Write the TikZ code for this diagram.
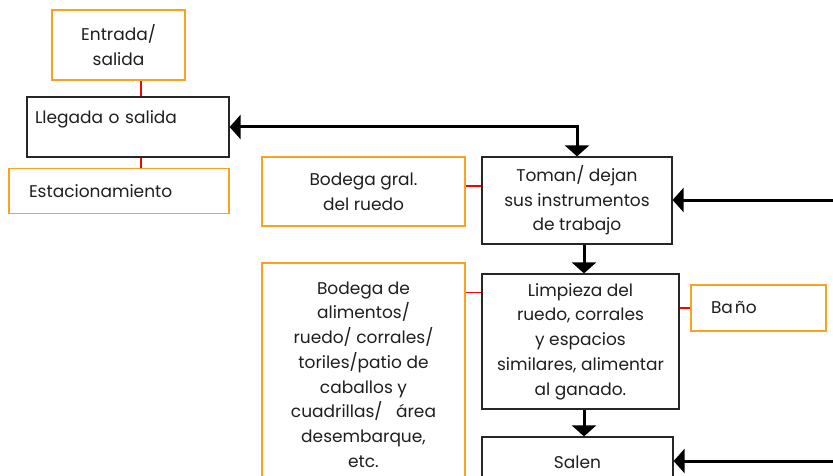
\documentclass[tikz,border=0pt]{standalone}
\usepackage{fontspec}
\setmainfont{Poppins}
\usetikzlibrary{arrows.meta,positioning}

\definecolor{naranja}{RGB}{247,162,32}
\definecolor{tinta}{RGB}{30,30,30}

\begin{document}
\begin{tikzpicture}[x=1pt,y=-1pt,
    font=\fontsize{17}{24.7}\selectfont,
    caja/.style={draw=black!85, line width=1.2pt, text=tinta, align=center},
    anexo/.style={draw=naranja, line width=1.2pt, text=tinta, align=center},
    enlace/.style={draw=red, line width=1.4pt},
    flecha/.style={line width=3pt, -{Triangle[width=24pt,length=11pt]}}]

    % marco
    \clip (0,0) rectangle (833,476);

    % columna izquierda
    \node[anexo, minimum width=133pt, minimum height=70pt] (entrada) at (118.5,45) {Entrada/\\salida};
    \node[caja, minimum width=202pt, minimum height=60pt, inner xsep=8pt,
          text width=186pt, align=left, text height=12pt, text depth=18pt] (llegada) at (128,127) {Llegada o salida};
    \node[anexo, minimum width=220pt, minimum height=45pt, inner xsep=20pt,
          text width=180pt, align=left] (estac) at (119,191) {Estacionamiento};

    % bodegas
    \node[anexo, minimum width=203pt, minimum height=69pt] (bodgral) at (363.5,191.5) {Bodega gral.\\del ruedo};
    \node[anexo, minimum width=203pt, minimum height=223pt] (alimentos) at (363.5,374.5)
        {Bodega de\\alimentos/\\ruedo/ corrales/\\toriles/patio de\\caballos y\\cuadrillas/\ \ \ área\\desembarque,\\etc.};

    % proceso
    \node[caja, minimum width=190pt, minimum height=87pt] (toman) at (577,200.5)
        {Toman/ dejan\\sus instrumentos\\de trabajo};
    \node[caja, minimum width=197pt, minimum height=135pt] (limpieza) at (580.5,341.5)
        {Limpieza del\\ruedo, corrales\\y espacios\\similares, alimentar\\al ganado.};
    \node[caja, minimum width=191pt, minimum height=50pt] (salen) at (577.5,462) {Salen};
    \node[anexo, minimum width=135pt, minimum height=46pt, inner xsep=20pt,
          text width=95pt, align=left] (bano) at (758.5,308) {Ba\kern2ptño};

    % entradas por la derecha
    \coordinate (der1) at (845,200);
    \coordinate (der2) at (845,461);

    % flechas
    \draw[line width=3pt, {Triangle[width=24pt,length=11pt]}-{Triangle[width=24pt,length=11pt]}]
        (llegada.east) -| (toman.north);
    \draw[flecha] (der1) -- (der1 -| toman.east);
    \draw[flecha] ([xshift=7pt]toman.south) -- ([xshift=7pt]toman.south |- limpieza.north);
    \draw[flecha] ([xshift=3.5pt]limpieza.south) -- ([xshift=3.5pt]limpieza.south |- salen.north);
    \draw[flecha] (der2) -- (der2 -| salen.east);

    % uniones rojas
    \draw[enlace] ([xshift=22.5pt]entrada.south) -- ([xshift=22.5pt]entrada.south |- llegada.north);
    \draw[enlace] ([xshift=13pt]llegada.south) -- ([xshift=13pt]llegada.south |- estac.north);
    \draw[enlace] ([yshift=5.5pt]bodgral.east) -- ([yshift=5.5pt]bodgral.east -| toman.west);
    \draw[enlace] ([yshift=-30pt]alimentos.north east) -- ([yshift=-30pt]alimentos.north east -| limpieza.west);
    \draw[enlace] (bano.west) -- (bano.west -| limpieza.east);

\end{tikzpicture}
\end{document}
